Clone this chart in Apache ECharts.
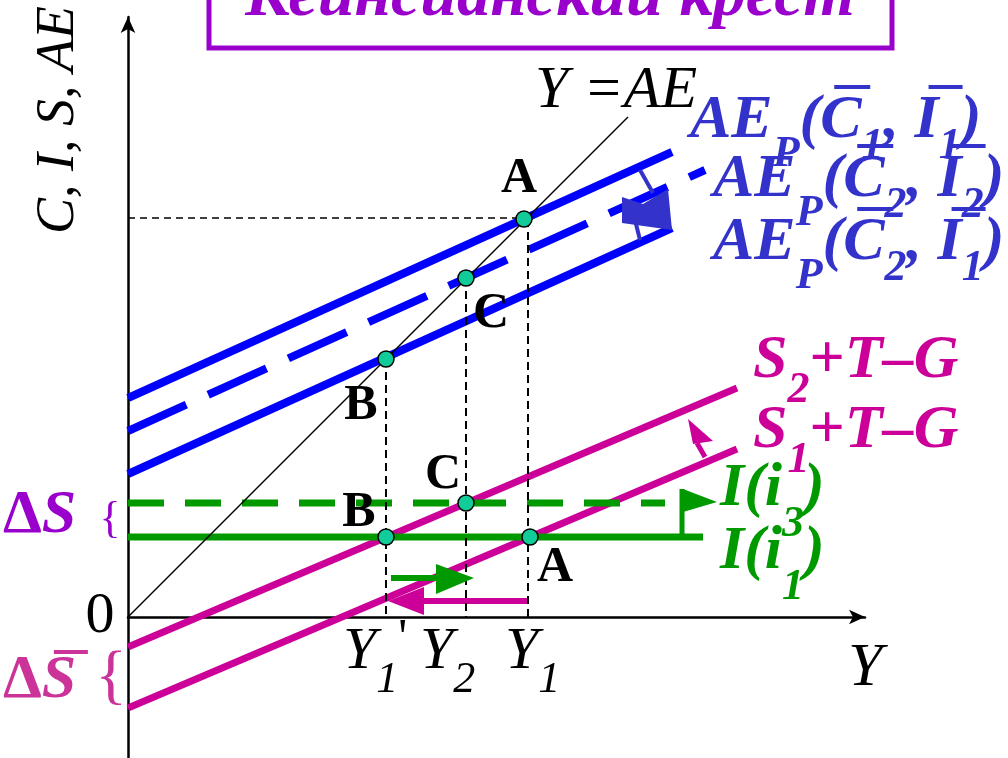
<!DOCTYPE html>
<html>
<head>
<meta charset="utf-8">
<script src="https://cdn.jsdelivr.net/npm/echarts@6/dist/echarts.min.js"></script>
<style>
  html, body { margin: 0; padding: 0; background: #fff; }
  #chart { width: 1008px; height: 758px; }
</style>
</head>
<body>
<div id="chart"></div>
<script>
// schematic units: origin of the cross is (0, 0)
const line45 = [[0, 0], [500, 500]];
const aePlan1 = [[0, 219], [544, 465]]; // AE_P(C1, I1)
const aePlan2 = [[0, 186], [577, 447]]; // AE_P(C2, I2)
const aePlan3 = [[0, 143], [544, 389]]; // AE_P(C2, I1)
const saving2 = [[0, -30], [609, 229]]; // S2+T-G
const saving1 = [[0, -91], [609, 168]]; // S1+T-G
const invest1 = [[0, 80], [575, 80]];   // I(i1)
const invest3 = [[0, 114], [537, 114]]; // I(i3)

const upperNames = ["A", "C", "B"];
const upperPoints = [[396, 398], [338, 339], [258, 258]];
const lowerNames = ["B", "C", "A"];
const lowerPoints = [[258, 80], [338, 114], [402, 80]];

const guideX = [258, 338, 400];
const guideTop = [258, 339, 398];
const guideLevel = 399;

const tickValues = [258, 338, 400];
const tickSubs = ["1", "2", "1"];
const tickPrimes = ["'", "", ""];

const greenShaft = [[263, 39], [312, 39]];
const greenHead = [[308, 53], [308, 23], [346, 39]];
const pinkShaft = [[400, 16], [290, 16]];
const pinkHead = [[296, 30], [296, 2], [260, 16]];
const flagStub = [[554, 80], [554, 128]];
const flagHead = [[555, 128], [555, 105], [589, 115]];
const sShiftShaft = [[577, 160], [569, 174]];
const sShiftHead = [[560, 198], [585, 176], [565, 173]];
const aeStubTop = [[512, 447], [525, 424]];
const aeStubBottom = [[504, 409], [512, 377]];
const aeShiftHead = [[494, 420], [515, 413], [540, 428], [544, 387], [494, 394]];

const BLUE = "#0000ff", AE_TXT = "#3333cc", PINK = "#cc0099", GREEN = "#009900";
const TEAL = "#11cc99", PURPLE = "#9900cc";
const SERIF = '"Liberation Serif", "DejaVu Serif", serif';

const chart = echarts.init(document.getElementById("chart"));

function seg(data, color, width, type, z) {
  return {
    type: "line", data: data, symbol: "none", silent: true, z: z || 2,
    lineStyle: { color: color, width: width, type: type || "solid" },
    animation: false
  };
}

const heads = [
  { pts: greenHead, color: GREEN },
  { pts: pinkHead, color: PINK },
  { pts: flagHead, color: GREEN },
  { pts: sShiftHead, color: PINK },
  { pts: aeShiftHead, color: AE_TXT }
];

function pointSeries(names, pts, offsets) {
  return {
    type: "scatter", z: 10, silent: true, animation: false,
    symbolSize: 16,
    itemStyle: { color: TEAL, borderColor: "#000", borderWidth: 1.5, opacity: 1 },
    label: {
      show: true, position: "inside", formatter: p => p.name,
      fontFamily: SERIF, fontWeight: "bold", fontSize: 50, color: "#000"
    },
    data: pts.map((p, i) => ({ name: names[i], value: p, label: { offset: offsets[i] } }))
  };
}

const series = [
  seg(line45, "#000", 1.5, "solid", 3),
  seg(aePlan1, BLUE, 8),
  seg(aePlan2, BLUE, 8, [64, 24]),
  seg(aePlan3, BLUE, 8),
  seg(saving2, PINK, 7),
  seg(saving1, PINK, 7),
  seg(invest1, GREEN, 7),
  seg(invest3, GREEN, 7, [36, 21]),
  seg([[0, guideLevel], [upperPoints[0][0], guideLevel]], "#000", 1.5, [7, 5], 4)
];
guideX.forEach((x, i) => series.push(seg([[x, guideTop[i]], [x, 0]], "#000", 2, [8, 5], 4)));
series.push(seg(greenShaft, GREEN, 6));
series.push(seg(pinkShaft, PINK, 6));
series.push(seg(flagStub, GREEN, 5));
series.push(seg(sShiftShaft, PINK, 5));
series.push(seg(aeStubTop, AE_TXT, 4));
series.push(seg(aeStubBottom, AE_TXT, 4));
series.push({
  type: "custom", silent: true, animation: false, z: 5,
  data: heads.map(h => h.pts[0]),
  renderItem: (params, api) => {
    const h = heads[params.dataIndex];
    return { type: "polygon", shape: { points: h.pts.map(p => api.coord(p)) }, style: { fill: h.color } };
  }
});
series.push(pointSeries(upperNames, upperPoints, [[-5, -40], [25, 36], [-25, 47]]));
series.push(pointSeries(lowerNames, lowerPoints, [[-27, -24], [-23, -28], [25, 31]]));

chart.setOption({
  animation: false,
  grid: { left: 128, right: 143, top: 17, bottom: 0 },
  xAxis: {
    type: "value", min: 0, max: 737,
    axisLine: { onZero: true, symbol: ["none", "arrow"], symbolSize: [11, 16], lineStyle: { color: "#000", width: 2.5 } },
    axisTick: { show: false }, axisLabel: { show: false }, splitLine: { show: false }
  },
  yAxis: {
    type: "value", min: -141, max: 600,
    axisLine: { onZero: true, symbol: ["none", "arrow"], symbolSize: [11, 16], lineStyle: { color: "#000", width: 2.5 } },
    axisTick: { show: false }, axisLabel: { show: false }, splitLine: { show: false }
  },
  series: series
});

// text pieces laid out one after another
const mctx = document.createElement("canvas").getContext("2d");
function fontOf(p) {
  return (p.i ? "italic " : "") + (p.b ? "bold " : "") + p.s + "px " + SERIF;
}
function txt(x, y, text, font, color, align, extra) {
  return Object.assign({
    type: "text", x: x, y: y, silent: true, z: 20,
    style: { text: text, font: font, fill: color, align: align || "left", verticalAlign: "middle",
             textAlign: align || "left", textVerticalAlign: "middle" }
  }, extra || {});
}
function compose(x, y, parts, color) {
  const out = [];
  let cx = x;
  parts.forEach(p => {
    const font = fontOf(p);
    mctx.font = font;
    const w = mctx.measureText(p.t).width;
    out.push(txt(cx, y + (p.dy || 0), p.t, font, color));
    if (p.ol) {
      out.push({ type: "rect", silent: true, z: 20, shape: { x: cx + p.ol[0], y: y + p.ol[1], width: p.ol[2], height: 4 }, style: { fill: color } });
    }
    cx += w + (p.dx || 0);
  });
  return out;
}
function aeRow(c, i) {
  return [
    { t: "AE", s: 62, b: 1, i: 1 },
    { t: "P", s: 44, b: 1, i: 1, dy: 34 },
    { t: "(", s: 62, b: 1, i: 1 },
    { t: "C", s: 62, b: 1, i: 1, ol: [14, -36, 36] },
    { t: c, s: 44, b: 1, i: 1, dy: 26 },
    { t: ", ", s: 62, b: 1, i: 1 },
    { t: "I", s: 62, b: 1, i: 1, ol: [14, -36, 34] },
    { t: i, s: 44, b: 1, i: 1, dy: 26 },
    { t: ")", s: 62, b: 1, i: 1 }
  ];
}
function sRow(k) {
  return [
    { t: "S", s: 62, b: 1, i: 1 },
    { t: k, s: 44, b: 1, i: 1, dy: 30 },
    { t: "+", s: 62, b: 1 },
    { t: "T", s: 62, b: 1, i: 1 },
    { t: "–", s: 62, b: 1, i: 1 },
    { t: "G", s: 62, b: 1, i: 1 }
  ];
}
function iRow(k) {
  return [
    { t: "I(i", s: 62, b: 1, i: 1 },
    { t: k, s: 44, b: 1, i: 1, dy: 36 },
    { t: ")", s: 62, b: 1, i: 1 }
  ];
}

let g = [];
g.push({ type: "rect", silent: true, z: 20, shape: { x: 209, y: -10, width: 683, height: 58 }, style: { fill: "none", stroke: PURPLE, lineWidth: 5 } });
g.push(txt(550, -2, "Кейнсианский крест", "italic bold 66px " + SERIF, PURPLE, "center"));
g.push(txt(59, 120, "C, I, S, AE", "italic 54px " + SERIF, "#000", "center", { rotation: Math.PI / 2 }));
g.push(txt(535, 91, "Y =AE", "italic 60px " + SERIF, "#000"));
g.push(txt(100, 617, "0", "58px " + SERIF, "#000", "center"));
g.push(txt(848, 669, "Y", "italic 62px " + SERIF, "#000"));
g = g.concat(compose(690, 121, aeRow("1", "1"), AE_TXT));
g = g.concat(compose(713, 180, aeRow("2", "2"), AE_TXT));
g = g.concat(compose(713, 243, aeRow("2", "1"), AE_TXT));
g = g.concat(compose(753, 361, sRow("2"), PINK));
g = g.concat(compose(753, 431, sRow("1"), PINK));
g = g.concat(compose(720, 489, iRow("3"), GREEN));
g = g.concat(compose(720, 552, iRow("1"), GREEN));
g = g.concat(compose(3, 516, [{ t: "Δ", s: 62, b: 1 }, { t: "S", s: 62, b: 1, i: 1 }], PURPLE));
g.push(txt(110, 520, "{", "44px " + SERIF, PURPLE, "center"));
g = g.concat(compose(3, 681, [{ t: "Δ", s: 62, b: 1 }, { t: "S", s: 62, b: 1, i: 1, ol: [12, -31, 34] }], "#cc3399"));
g.push(txt(111, 679, "{", "66px " + SERIF, "#cc3399", "center"));

const tickShift = [-43, -46, -23];
tickValues.forEach((v, k) => {
  const px = chart.convertToPixel({ gridIndex: 0 }, [v, 0])[0];
  g = g.concat(compose(px + tickShift[k], 652, [
    { t: "Y", s: 60, i: 1 },
    { t: tickSubs[k], s: 44, i: 1, dy: 28 },
    { t: tickPrimes[k], s: 50, dy: -12 }
  ], "#000"));
});

chart.setOption({ graphic: { elements: g } });
</script>
</body>
</html>
